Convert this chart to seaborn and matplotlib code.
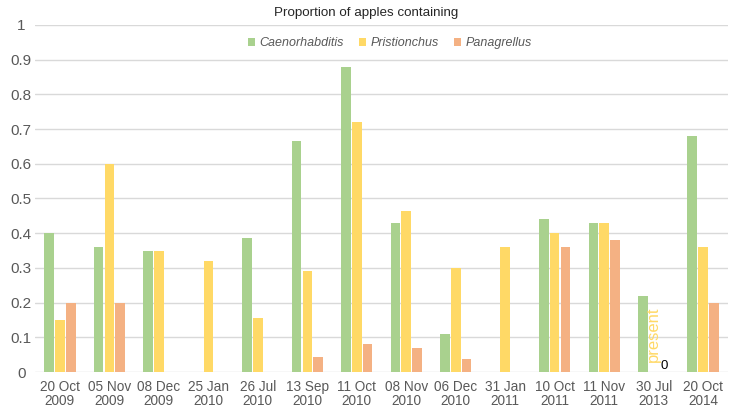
import matplotlib
matplotlib.use("Agg")
import matplotlib.pyplot as plt
import pandas as pd
import seaborn as sns

# data
dates = ["20 Oct\n2009", "05 Nov\n2009", "08 Dec\n2009", "25 Jan\n2010", "26 Jul\n2010",
         "13 Sep\n2010", "11 Oct\n2010", "08 Nov\n2010", "06 Dec\n2010", "31 Jan\n2011",
         "10 Oct\n2011", "11 Nov\n2011", "30 Jul\n2013", "20 Oct\n2014"]
caenorhabditis = [0.40, 0.36, 0.35, 0.0, 0.385, 0.667, 0.88, 0.43, 0.11, 0.0, 0.44, 0.43, 0.22, 0.68]
pristionchus = [0.15, 0.60, 0.35, 0.32, 0.155, 0.29, 0.72, 0.465, 0.30, 0.36, 0.40, 0.43, 0.0, 0.36]
panagrellus = [0.20, 0.20, 0.0, 0.0, 0.0, 0.043, 0.08, 0.07, 0.038, 0.0, 0.36, 0.38, 0.0, 0.20]
genera = ["Caenorhabditis", "Pristionchus", "Panagrellus"]
colors = ["#A9D18E", "#FFD966", "#F4B183"]
yticks = [0, 0.1, 0.2, 0.3, 0.4, 0.5, 0.6, 0.7, 0.8, 0.9, 1]
ytick_labels = ["0", "0.1", "0.2", "0.3", "0.4", "0.5", "0.6", "0.7", "0.8", "0.9", "1"]

df = pd.DataFrame({
    "date": dates * 3,
    "genus": [genera[0]] * len(dates) + [genera[1]] * len(dates) + [genera[2]] * len(dates),
    "value": caenorhabditis + pristionchus + panagrellus,
})

sns.set_style("white")
plt.rcParams["font.family"] = ["Liberation Sans", "DejaVu Sans"]

fig = plt.figure(figsize=(7.33, 4.08), dpi=100)
ax = fig.add_axes([0.048, 0.088, 0.945, 0.851])

sns.barplot(data=df, x="date", y="value", hue="genus", hue_order=genera,
            palette=colors, width=0.66, gap=0.12, saturation=1, errorbar=None,
            linewidth=0, ax=ax)

ax.set_ylim(0, 1)
ax.set_yticks(yticks)
ax.set_yticklabels(ytick_labels)
ax.set_xlim(-0.5, len(dates) - 0.5)
ax.set_xlabel("")
ax.set_ylabel("")
ax.yaxis.grid(True, color="#D9D9D9", linewidth=1)
ax.set_axisbelow(True)
for s in ax.spines.values():
    s.set_visible(False)
ax.tick_params(axis="x", length=0, labelsize=9.8, labelcolor="#595959", pad=6)
ax.tick_params(axis="y", length=0, labelsize=11, labelcolor="#595959", pad=10)
for lbl in ax.get_yticklabels():
    lbl.set_horizontalalignment("center")
for lbl in ax.get_xticklabels():
    lbl.set_linespacing(1.0)

# data labels for 30 Jul 2013
p_bar = ax.containers[1][12]
ax.text(p_bar.get_x() + p_bar.get_width() / 2, 0.028, "present", rotation=90,
        ha="center", va="bottom", color="#FFD966", fontsize=12)
o_bar = ax.containers[2][12]
ax.text(o_bar.get_x() + o_bar.get_width() / 2, 0.0, "0", ha="center", va="bottom",
        color="black", fontsize=9.5)

handles, labels = ax.get_legend_handles_labels()
ax.legend(handles, labels, loc="center", bbox_to_anchor=(0.532, 0.894),
          bbox_transform=fig.transFigure, ncol=3, frameon=False,
          handlelength=0.55, handleheight=0.55, handletextpad=0.4, columnspacing=1.2,
          prop={"style": "italic", "size": 9}, labelcolor="#595959")

fig.text(0.5, 0.968, "Proportion of apples containing", ha="center", va="center",
         fontsize=9.6, color="#262626")

fig.savefig("out.png", dpi=100)
